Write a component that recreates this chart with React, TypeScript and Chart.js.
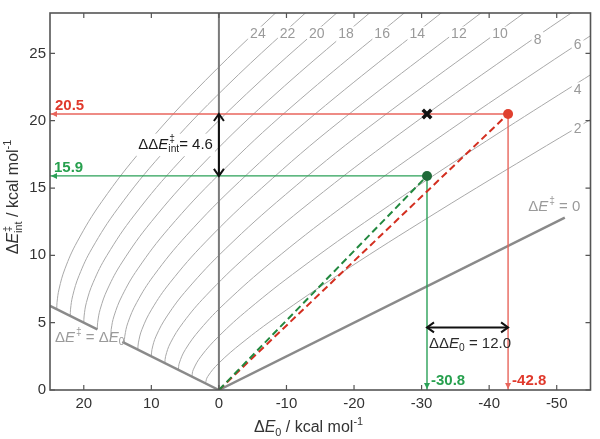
import React, { useEffect, useRef } from "react";
import { Chart, registerables } from "chart.js";
Chart.register(...registerables);

// ---- axes ----
const xTicks = [20, 10, 0, -10, -20, -30, -40, -50];
const yTicks = [0, 5, 10, 15, 20, 25];
const xMin = -55;
const xMax = 25;
const yMin = 0;
const yMax = 28;

// ---- contour lines of constant ΔE‡ ----
const contourLevels = [24, 22, 20, 18, 16, 14, 12, 10, 8, 6, 4, 2];
const c24 = [[24, 6], [23.96, 6.5], [23.66, 7.5], [22.79, 9], [20.99, 11], [17.32, 14], [11.14, 18], [1.98, 23], [-10.47, 29]];
const c22 = [[22, 5.5], [21.96, 6], [21.64, 7], [20.7, 8.5], [18.8, 10.5], [14.93, 13.5], [8.49, 17.5], [-1.0, 22.5], [-14.96, 29]];
const c20 = [[20, 5], [19.95, 5.5], [19.61, 6.5], [18.6, 8], [16.57, 10], [12.5, 13], [5.76, 17], [-4.1, 22], [-19.67, 29]];
const c18 = [[18, 4.5], [17.95, 5], [17.57, 6], [16.48, 7.5], [14.31, 9.5], [10.0, 12.5], [2.94, 16.5], [-7.31, 21.5], [-24.61, 29]];
const c16 = [[16, 4], [15.94, 4.5], [15.52, 5.5], [14.33, 7], [12.0, 9], [7.43, 12], [0, 16], [-10.68, 21], [-29.84, 29]];
const c14 = [[14, 3.5], [13.93, 4], [13.47, 5], [12.16, 6.5], [9.64, 8.5], [4.76, 11.5], [-3.08, 15.5], [-14.24, 20.5], [-35.4, 29]];
const c12 = [[12, 3], [11.92, 3.5], [11.39, 4.5], [9.94, 6], [7.19, 8], [1.96, 11], [-6.34, 15], [-18.03, 20], [-41.38, 29]];
const c10 = [[10, 2.5], [9.91, 3], [9.3, 4], [7.66, 5.5], [4.64, 7.5], [-1.01, 10.5], [-9.83, 14.5], [-22.14, 19.5], [-47.88, 29]];
const c8 = [[8, 2], [7.89, 2.5], [7.17, 3.5], [5.3, 5], [1.93, 7], [-4.22, 10], [-13.67, 14], [-26.69, 19], [-43.43, 25], [-58.03, 30]];
const c6 = [[6, 1.5], [5.86, 2], [4.97, 3], [2.78, 4.5], [-1.02, 6.5], [-7.8, 9.5], [-18.0, 13.5], [-31.86, 18.5], [-48.0, 24], [-60.16, 28]];
const c4 = [[4, 1], [3.8, 1.5], [2.65, 2.5], [0, 4], [-4.4, 6], [-12.0, 9], [-23.16, 13], [-38.06, 18], [-60.0, 25]];
const c2 = [[2, 0.5], [1.66, 1], [0, 2], [-3.42, 3.5], [-8.73, 5.5], [-17.51, 8.5], [-30.0, 12.5], [-46.34, 17.5], [-61.47, 22]];
const contourCurves = [c24, c22, c20, c18, c16, c14, c12, c10, c8, c6, c4, c2];
const contourLabelX = [-5.77, -10.17, -14.49, -18.81, -24.16, -29.36, -35.52, -41.6, -47.16, -53.1, -53.1, -53.1];
const contourLabelY = [26.4, 26.4, 26.4, 26.4, 26.4, 26.4, 26.4, 26.4, 26.0, 25.6, 22.25, 19.4];

// ---- boundary lines ----
const leftLineA = [[25, 6.25], [18.0, 4.5]];
const leftLineB = [[14.3, 3.575], [0, 0]];
const zeroLine = [[0, 0], [-51.2, 12.8]];
const axisLine = [[0, 0], [0, 28]];

// ---- highlighted values ----
const redX = -42.8;
const redY = 20.5;
const greenX = -30.8;
const greenY = 15.9;
const crossX = -30.8;
const crossY = 20.5;
const ddE0ArrowY = 4.65;
const ddEintLabelY = 18.2;

const FONT = '"Liberation Sans", Arial, Helvetica, sans-serif';

const pts = (a: number[][]) => a.map((p) => ({ x: p[0], y: p[1] }));

type Seg = { t: string; it?: boolean; b?: boolean; sup?: string; sub?: string };

function fontStr(size: number, it?: boolean, b?: boolean) {
  return `${it ? "italic " : ""}${b ? "bold " : ""}${size}px ${FONT}`;
}

function richWidth(ctx: CanvasRenderingContext2D, segs: Seg[], size: number) {
  let w = 0;
  for (const s of segs) {
    ctx.font = fontStr(size, s.it, s.b);
    w += ctx.measureText(s.t).width;
    ctx.font = fontStr(size * 0.68, false, s.b);
    let sw = 0;
    if (s.sup) sw = Math.max(sw, ctx.measureText(s.sup).width + (s.it ? 1 : 0));
    if (s.sub) sw = Math.max(sw, ctx.measureText(s.sub).width);
    w += sw;
  }
  return w;
}

function drawRich(
  ctx: CanvasRenderingContext2D,
  segs: Seg[],
  x: number,
  y: number,
  size: number,
  color: string,
  align: "left" | "center" | "right",
  bg?: boolean
) {
  const w = richWidth(ctx, segs, size);
  let cx = align === "left" ? x : align === "center" ? x - w / 2 : x - w;
  if (bg) {
    ctx.fillStyle = "#fff";
    ctx.fillRect(cx - 2, y - size * 0.75, w + 4, size * 1.5);
  }
  ctx.fillStyle = color;
  ctx.textBaseline = "middle";
  ctx.textAlign = "left";
  for (const s of segs) {
    ctx.font = fontStr(size, s.it, s.b);
    ctx.fillText(s.t, cx, y);
    cx += ctx.measureText(s.t).width;
    ctx.font = fontStr(size * 0.68, false, s.b);
    let sw = 0;
    if (s.sup) {
      const off = s.it ? 1 : 0;
      ctx.fillText(s.sup, cx + off, y - size * 0.4);
      sw = Math.max(sw, ctx.measureText(s.sup).width + off);
    }
    if (s.sub) {
      ctx.fillText(s.sub, cx, y + size * 0.3);
      sw = Math.max(sw, ctx.measureText(s.sub).width);
    }
    cx += sw;
  }
}

function filledArrow(ctx: CanvasRenderingContext2D, tx: number, ty: number, dx: number, dy: number, len: number, half: number, color: string) {
  const bx = tx - dx * len;
  const by = ty - dy * len;
  const nx = -dy;
  const ny = dx;
  ctx.fillStyle = color;
  ctx.beginPath();
  ctx.moveTo(tx, ty);
  ctx.lineTo(bx + nx * half, by + ny * half);
  ctx.lineTo(bx - nx * half, by - ny * half);
  ctx.closePath();
  ctx.fill();
}

function openArrow(ctx: CanvasRenderingContext2D, tx: number, ty: number, dx: number, dy: number, len: number, half: number, color: string) {
  const bx = tx - dx * len;
  const by = ty - dy * len;
  const nx = -dy;
  const ny = dx;
  ctx.strokeStyle = color;
  ctx.lineWidth = 2;
  ctx.lineJoin = "miter";
  ctx.beginPath();
  ctx.moveTo(bx + nx * half, by + ny * half);
  ctx.lineTo(tx, ty);
  ctx.lineTo(bx - nx * half, by - ny * half);
  ctx.stroke();
}

const RED_LINE = "#e8655c";
const RED_TXT = "#e0392c";
const RED_DASH = "#d32f20";
const RED_PT = "#e0402f";
const GREEN_LINE = "#2aa057";
const GREEN_TXT = "#27a04e";
const GREEN_DASH = "#22883f";
const GREEN_PT = "#1f6a38";
const GRAY_HEAVY = "#8a8a8a";
const GRAY_TXT = "#9a9a9a";
const CONTOUR = "#a9a9a9";

const annotPlugin = {
  id: "annot",
  afterDatasetsDraw(chart: any) {
    const { ctx, chartArea: ca, scales } = chart;
    const px = (v: number) => scales.x.getPixelForValue(v);
    const py = (v: number) => scales.y.getPixelForValue(v);
    ctx.save();
    ctx.beginPath();
    ctx.rect(ca.left, ca.top, ca.right - ca.left, ca.bottom - ca.top);
    ctx.clip();

    // contour labels
    ctx.font = `14px ${FONT}`;
    ctx.textAlign = "center";
    ctx.textBaseline = "middle";
    contourLevels.forEach((lv, i) => {
      const x = px(contourLabelX[i]);
      const y = py(contourLabelY[i]);
      const t = String(lv);
      const w = ctx.measureText(t).width;
      ctx.fillStyle = "#fff";
      ctx.fillRect(x - w / 2 - 2, y - 8, w + 4, 16);
      ctx.fillStyle = GRAY_TXT;
      ctx.fillText(t, x, y);
    });

    // arrows on red / green guide lines
    filledArrow(ctx, ca.left + 1, py(redY), -1, 0, 6, 3, RED_LINE);
    filledArrow(ctx, px(redX), ca.bottom - 1, 0, 1, 6, 3, RED_LINE);
    filledArrow(ctx, ca.left + 1, py(greenY), -1, 0, 6, 3, GREEN_LINE);
    filledArrow(ctx, px(greenX), ca.bottom - 1, 0, 1, 6, 3, GREEN_LINE);

    // black double arrows
    openArrow(ctx, px(0), py(redY), 0, -1, 7, 5, "#111");
    openArrow(ctx, px(0), py(greenY), 0, 1, 7, 5, "#111");
    openArrow(ctx, px(greenX), py(ddE0ArrowY), -1, 0, 7, 5, "#111");
    openArrow(ctx, px(redX), py(ddE0ArrowY), 1, 0, 7, 5, "#111");

    // value labels
    drawRich(ctx, [{ t: "20.5", b: true }], ca.left + 5, py(redY) - 8, 15, RED_TXT, "left");
    drawRich(ctx, [{ t: "15.9", b: true }], ca.left + 4, py(greenY) - 8, 15, GREEN_TXT, "left");
    drawRich(ctx, [{ t: "-30.8", b: true }], px(greenX) + 4, ca.bottom - 9, 15, GREEN_TXT, "left");
    drawRich(ctx, [{ t: "-42.8", b: true }], px(redX) + 4, ca.bottom - 9, 15, RED_TXT, "left");

    // difference labels
    drawRich(
      ctx,
      [{ t: "ΔΔ" }, { t: "E", it: true, sup: "‡", sub: "int" }, { t: "= 4.6" }],
      px(0) - 6,
      py(ddEintLabelY),
      15,
      "#1a1a1a",
      "right",
      true
    );
    drawRich(
      ctx,
      [{ t: "ΔΔ" }, { t: "E", it: true, sub: "0" }, { t: " = 12.0" }],
      px(greenX) + 2,
      py(ddE0ArrowY) + 16,
      15,
      "#2a2a2a",
      "left"
    );

    // boundary labels
    drawRich(ctx, [{ t: "Δ" }, { t: "E", it: true, sup: "‡" }, { t: " = 0" }], px(-45.77), py(13.6), 15, GRAY_TXT, "left");
    drawRich(
      ctx,
      [{ t: "Δ" }, { t: "E", it: true, sup: "‡" }, { t: " = Δ" }, { t: "E", it: true, sub: "0" }],
      px(24.26),
      py(3.85),
      15,
      GRAY_TXT,
      "left"
    );
    ctx.restore();
  },
  afterDraw(chart: any) {
    const { ctx, chartArea: ca, scales } = chart;
    const px = (v: number) => scales.x.getPixelForValue(v);
    const py = (v: number) => scales.y.getPixelForValue(v);
    ctx.save();
    // frame
    ctx.strokeStyle = "#555";
    ctx.lineWidth = 1.6;
    ctx.strokeRect(ca.left, ca.top, ca.right - ca.left, ca.bottom - ca.top);
    // inward ticks
    ctx.lineWidth = 1.2;
    ctx.beginPath();
    for (const v of xTicks) {
      const x = px(v);
      ctx.moveTo(x, ca.bottom);
      ctx.lineTo(x, ca.bottom - 5);
      ctx.moveTo(x, ca.top);
      ctx.lineTo(x, ca.top + 5);
    }
    for (const v of yTicks) {
      const y = py(v);
      ctx.moveTo(ca.left, y);
      ctx.lineTo(ca.left + 5, y);
      ctx.moveTo(ca.right, y);
      ctx.lineTo(ca.right - 5, y);
    }
    ctx.stroke();

    // axis titles
    drawRich(
      ctx,
      [{ t: "Δ" }, { t: "E", it: true, sub: "0" }, { t: " / kcal mol", sup: "-1" }],
      308.5,
      428,
      16,
      "#333",
      "center"
    );
    ctx.translate(14, 197);
    ctx.rotate(-Math.PI / 2);
    drawRich(
      ctx,
      [{ t: "Δ" }, { t: "E", it: true, sup: "‡", sub: "int" }, { t: " / kcal mol", sup: "-1" }],
      0,
      0,
      16,
      "#333",
      "center"
    );
    ctx.restore();
  },
};

export default function App() {
  const ref = useRef<HTMLCanvasElement | null>(null);
  useEffect(() => {
    if (!ref.current) return;
    const line = (data: number[][], color: string, width: number, extra: any = {}) => ({
      data: pts(data),
      showLine: true,
      borderColor: color,
      backgroundColor: color,
      borderWidth: width,
      pointRadius: 0,
      tension: 0,
      ...extra,
    });
    const datasets: any[] = [
      {
        data: [{ x: crossX, y: crossY }],
        pointStyle: "crossRot",
        pointRadius: 6,
        borderWidth: 3.5,
        borderColor: "#111",
        backgroundColor: "#111",
        showLine: false,
      },
      { data: [{ x: redX, y: redY }], pointRadius: 5, backgroundColor: RED_PT, borderWidth: 0, showLine: false },
      { data: [{ x: greenX, y: greenY }], pointRadius: 5, backgroundColor: GREEN_PT, borderWidth: 0, showLine: false },
      line([[0, 0], [greenX, greenY]], GREEN_DASH, 2, { borderDash: [7, 4] }),
      line([[0, 0], [redX, redY]], RED_DASH, 2, { borderDash: [7, 4] }),
      line([[0, greenY], [0, redY]], "#111", 2),
      line([[greenX, ddE0ArrowY], [redX, ddE0ArrowY]], "#111", 2),
      line([[greenX, greenY], [xMax, greenY]], GREEN_LINE, 1.4),
      line([[greenX, greenY], [greenX, yMin]], GREEN_LINE, 1.4),
      line([[redX, redY], [xMax, redY]], RED_LINE, 1.4),
      line([[redX, redY], [redX, yMin]], RED_LINE, 1.4),
      line(axisLine, "#7a7a7a", 2),
      line(leftLineA, GRAY_HEAVY, 2.5),
      line(leftLineB, GRAY_HEAVY, 2.5),
      line(zeroLine, GRAY_HEAVY, 2.5),
      ...contourCurves.map((c) => line(c, CONTOUR, 1, { tension: 0.4, capBezierPoints: false })),
    ];
    const tickFont = { size: 15, family: FONT };
    const chart = new Chart(ref.current, {
      type: "scatter",
      data: { datasets },
      options: {
        responsive: false,
        animation: false,
        devicePixelRatio: 1,
        layout: { padding: { top: 5, right: 4, left: 0, bottom: 0 } },
        plugins: { legend: { display: false }, tooltip: { enabled: false } },
        scales: {
          x: {
            type: "linear",
            min: xMin,
            max: xMax,
            reverse: true,
            afterBuildTicks: (s: any) => {
              s.ticks = xTicks.map((v) => ({ value: v }));
            },
            afterFit: (s: any) => {
              s.height = 49;
            },
            grid: { display: false, drawTicks: false },
            border: { display: false },
            ticks: { autoSkip: false, maxRotation: 0, padding: 5, color: "#333", font: tickFont, callback: (v: any) => String(v) },
          },
          y: {
            type: "linear",
            min: yMin,
            max: yMax,
            afterBuildTicks: (s: any) => {
              s.ticks = yTicks.map((v) => ({ value: v }));
            },
            afterFit: (s: any) => {
              s.width = 50;
            },
            grid: { display: false, drawTicks: false },
            border: { display: false },
            ticks: { autoSkip: false, padding: 4, color: "#333", font: tickFont, callback: (v: any) => String(v) },
          },
        },
      } as any,
      plugins: [annotPlugin],
    });
    return () => chart.destroy();
  }, []);
  return (
    <div style={{ position: "fixed", left: 0, top: 0, width: 600, height: 439, background: "#fff" }}>
      <canvas ref={ref} width={600} height={439} style={{ display: "block" }} />
    </div>
  );
}
